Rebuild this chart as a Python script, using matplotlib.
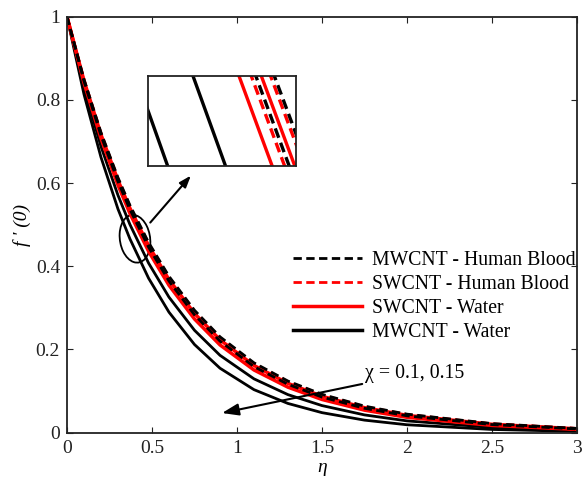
import numpy as np
import matplotlib
matplotlib.use('Agg')
import matplotlib.pyplot as plt
from matplotlib.patches import Ellipse
from matplotlib.lines import Line2D

plt.rcParams['font.family'] = ['Liberation Serif', 'DejaVu Serif']

eta = [0, 0.1, 0.2, 0.3, 0.37, 0.48, 0.6, 0.75, 0.9, 1.1, 1.3, 1.5, 1.75, 2.0, 2.5, 3.0]

# MWCNT - Water (chi = 0.1, 0.15)
mw_water_1 = [1, 0.8135, 0.6620, 0.5375, 0.4660, 0.3712, 0.2895, 0.2118, 0.1548, 0.1032,
              0.0700, 0.0479, 0.0299, 0.0188, 0.0075, 0.0028]
mw_water_2 = [1, 0.8294, 0.6880, 0.5706, 0.5006, 0.4075, 0.3256, 0.2460, 0.1858, 0.1292,
              0.0912, 0.0649, 0.0425, 0.0281, 0.0123, 0.0051]
# SWCNT - Water
sw_water_1 = [1, 0.8411, 0.7075, 0.5951, 0.5272, 0.4359, 0.3542, 0.2732, 0.2108, 0.1505,
              0.1091, 0.0796, 0.0539, 0.0367, 0.0172, 0.0076]
sw_water_2 = [1, 0.8465, 0.7165, 0.6065, 0.5397, 0.4493, 0.3678, 0.2864, 0.2231, 0.1613,
              0.1183, 0.0873, 0.0599, 0.0414, 0.0199, 0.0091]
# SWCNT - Human Blood
sw_blood_1 = [1, 0.8441, 0.7125, 0.6014, 0.5341, 0.4433, 0.3617, 0.2805, 0.2175, 0.1564,
              0.1141, 0.0838, 0.0571, 0.0393, 0.0186, 0.0084]
sw_blood_2 = [1, 0.8486, 0.7201, 0.6111, 0.5448, 0.4548, 0.3735, 0.2920, 0.2282, 0.1659,
              0.1222, 0.0907, 0.0625, 0.0435, 0.0211, 0.0098]
# MWCNT - Human Blood
mw_blood_1 = [1, 0.8452, 0.7143, 0.6037, 0.5367, 0.4460, 0.3645, 0.2832, 0.2201, 0.1587,
              0.1160, 0.0854, 0.0584, 0.0403, 0.0192, 0.0087]
mw_blood_2 = [1, 0.8495, 0.7216, 0.6129, 0.5468, 0.4570, 0.3757, 0.2941, 0.2303, 0.1677,
              0.1238, 0.0920, 0.0636, 0.0443, 0.0216, 0.0100]

labels = ['MWCNT - Human Blood', 'SWCNT - Human Blood', 'SWCNT - Water', 'MWCNT - Water']

RED = '#ff0000'
DASH = (3, 1.6)


def draw_curves(ax, lw_k, lw_r):
    for y in (mw_water_1, mw_water_2):
        ax.plot(eta, y, color='k', lw=lw_k, solid_capstyle='butt')
    for y in (sw_water_1, sw_water_2):
        ax.plot(eta, y, color=RED, lw=lw_r, solid_capstyle='butt')
    for y in (sw_blood_1, sw_blood_2):
        ax.plot(eta, y, color=RED, lw=lw_k, dashes=DASH)
    for y in (mw_blood_1, mw_blood_2):
        ax.plot(eta, y, color='k', lw=lw_k, dashes=DASH)


fig = plt.figure(figsize=(5.85, 4.8), dpi=100)
ax = fig.add_axes([0.1145, 0.0988, 0.8718, 0.8664])

draw_curves(ax, 2.0, 2.5)

ax.set_xlim(0, 3)
ax.set_ylim(0, 1)
ax.set_xticks([0, 0.5, 1, 1.5, 2, 2.5, 3])
ax.set_xticklabels(['0', '0.5', '1', '1.5', '2', '2.5', '3'])
ax.set_yticks([0, 0.2, 0.4, 0.6, 0.8, 1])
ax.set_yticklabels(['0', '0.2', '0.4', '0.6', '0.8', '1'])
ax.tick_params(direction='in', length=4, width=0.8, top=True, right=True,
               labelsize=14, pad=5, colors='#222222', labelcolor='#222222')
for s in ax.spines.values():
    s.set_linewidth(1.3)
    s.set_color('#222222')

ax.set_xlabel('η', fontsize=14, fontstyle='italic', labelpad=2)
ax.set_ylabel("f ' (0)", fontsize=14, fontstyle='italic', labelpad=3)

# legend
handles = [Line2D([], [], color='k', lw=2.0, dashes=DASH),
           Line2D([], [], color=RED, lw=2.0, dashes=DASH),
           Line2D([], [], color=RED, lw=2.5),
           Line2D([], [], color='k', lw=2.5)]
ax.legend(handles, labels, loc='upper left', bbox_to_anchor=(293 / 585, 1 - 251 / 480),
          bbox_transform=fig.transFigure, frameon=False, fontsize=14.2, borderpad=0,
          borderaxespad=0, handlelength=3.5, handletextpad=0.5, labelspacing=0.26)

# ellipse marking the zoomed region
ax.add_patch(Ellipse((0.40, 0.466), 0.182, 0.113, angle=-8, fill=False, lw=1.3, color='k'))

# arrows
ax.annotate('', xy=(0.729, 0.618), xytext=(0.49, 0.505),
            arrowprops=dict(arrowstyle='-|>,head_length=0.7,head_width=0.25', lw=1.5, color='k',
                            shrinkA=0, shrinkB=0))
ax.annotate('χ = 0.1, 0.15', xy=(0.912, 0.047), xytext=(1.753, 0.143), fontsize=14.3,
            va='center', ha='left',
            arrowprops=dict(arrowstyle='-|>,head_length=0.7,head_width=0.25', lw=1.5, color='k',
                            shrinkA=0, shrinkB=0))

# inset zoom
axin = fig.add_axes([148 / 585, 1 - 166 / 480, 148 / 585, 90 / 480])
draw_curves(axin, 2.4, 2.4)
axin.set_xlim(0.3741, 0.4795)
axin.set_ylim(0.4504, 0.47)
axin.set_xticks([])
axin.set_yticks([])
for s in axin.spines.values():
    s.set_linewidth(1.3)
    s.set_color('#222222')

fig.savefig('out.png', dpi=100)
